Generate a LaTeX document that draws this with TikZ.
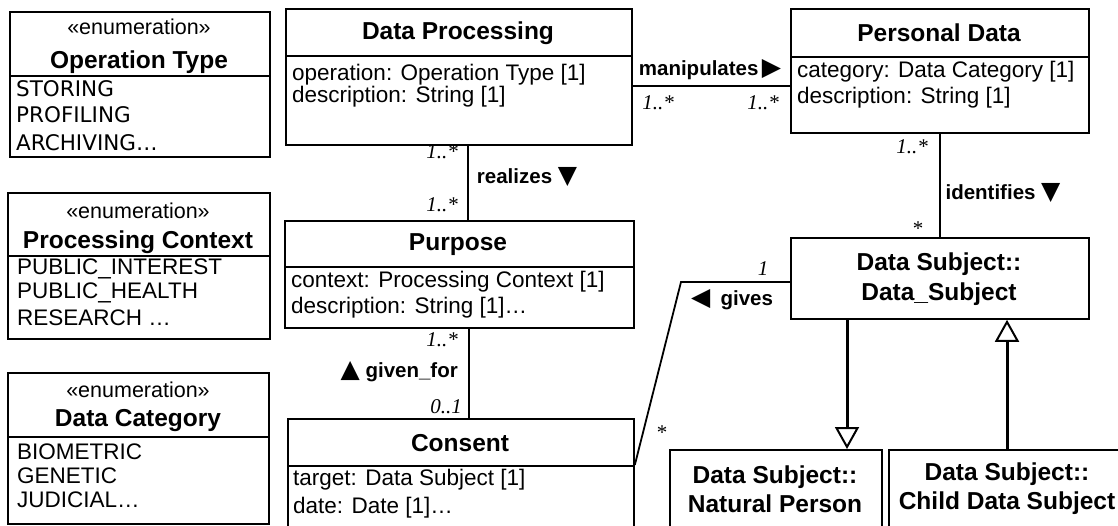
\documentclass[tikz,border=0pt]{standalone}
\usepackage{fontspec}
\setmainfont{Liberation Sans}
\newfontfamily\multfont{Liberation Serif}
\newfontfamily\symfont{DejaVu Sans}
\newfontfamily\itemfont{DejaVu Sans}
\usetikzlibrary{arrows.meta}
\newcommand{\tri}[1]{{\symfont\fontsize{25}{26}\selectfont #1}}
\begin{document}
\begin{tikzpicture}[x=1pt,y=-1pt,
 box/.style={draw, line width=1.8pt, inner sep=0, anchor=north west},
 sep/.style={line width=1.8pt},
 ttl/.style={font=\fontsize{24.5}{30}\selectfont\bfseries, inner sep=0},
 attr/.style={font=\fontsize{22.5}{26}\selectfont, inner sep=0, anchor=west},
 enumitem/.style={font=\itemfont\fontsize{21.5}{26}\selectfont, inner sep=0, anchor=west},
 enumitemb/.style={font=\fontsize{22.5}{26}\selectfont, inner sep=0, anchor=west},
 stereo/.style={font=\fontsize{21.5}{25}\selectfont, inner sep=0},
 lbl/.style={font=\fontsize{20.5}{24}\selectfont\bfseries, inner sep=0},
 mul/.style={font=\multfont\fontsize{21}{24}\selectfont\itshape, inner sep=0},
 assoc/.style={line width=1.8pt},
 gen/.style={line width=3pt, -{Triangle[open, length=22pt, width=24pt, line width=2pt]}},
]
\useasboundingbox (0,0) rectangle (1118,525);

% Operation Type
\node[box, minimum width=260pt, minimum height=145pt] (op) at (9,11) {};
\draw[sep] (op.north west) ++(0,65) -- ++(260,0);
\node[stereo] (opS) at (139,27) {«enumeration»};
\node[ttl] (opT) at (139,62) {Operation Type};
\node[enumitem] (op1) at (16,89) {STORING};
\node[enumitem] (op2) at (16,115) {PROFILING};
\node[enumitem] (op3) at (16,143) {ARCHIVING…};

% Processing Context
\node[box, minimum width=262pt, minimum height=146pt] (pc) at (7,192) {};
\draw[sep] (pc.north west) ++(0,64) -- ++(262,0);
\node[stereo] (pcS) at (138,211) {«enumeration»};
\node[ttl] (pcT) at (138,242) {Processing Context};
\node[enumitemb] (pc1) at (17,269) {PUBLIC\_INTEREST};
\node[enumitemb] (pc2) at (17,293) {PUBLIC\_HEALTH};
\node[enumitemb] (pc3) at (17,318) {RESEARCH …};

% Data Category
\node[box, minimum width=261pt, minimum height=151pt] (dc) at (7,372) {};
\draw[sep] (dc.north west) ++(0,65) -- ++(261,0);
\node[stereo] (dcS) at (138,390) {«enumeration»};
\node[ttl] (dcT) at (138,421) {Data Category};
\node[enumitemb] (dc1) at (17,452) {BIOMETRIC};
\node[enumitemb] (dc2) at (17,476) {GENETIC};
\node[enumitemb] (dc3) at (17,500) {JUDICIAL…};

% Data Processing
\node[box, minimum width=346pt, minimum height=136pt] (dp) at (285,8) {};
\draw[sep] (dp.north west) ++(0,48) -- ++(346,0);
\node[ttl] (dpT) at (458,33) {Data Processing};
\node[attr] (dp1) at (292,75) {operation: Operation Type [1]};
\node[attr] (dp2) at (292,97) {description: String [1]};

% Personal Data
\node[box, minimum width=298pt, minimum height=124pt] (pd) at (790,8) {};
\draw[sep] (pd.north west) ++(0,49) -- ++(298,0);
\node[ttl] (pdT) at (939,33) {Personal Data};
\node[attr] (pd1) at (797,72) {category: Data Category [1]};
\node[attr] (pd2) at (797,98) {description: String [1]};

% Purpose
\node[box, minimum width=349pt, minimum height=107pt] (pu) at (284,220) {};
\draw[sep] (pu.north west) ++(0,47) -- ++(349,0);
\node[ttl] (puT) at (458,245) {Purpose};
\node[attr] (pu1) at (291,282) {context: Processing Context [1]};
\node[attr] (pu2) at (291,308) {description: String [1]…};

% Consent
\node[box, minimum width=346pt, minimum height=120pt] (co) at (287,418) {};
\draw[sep] (co.north west) ++(0,48) -- ++(346,0);
\node[ttl] (coT) at (460,443) {Consent};
\node[attr] (co1) at (293,480) {target: Data Subject [1]};
\node[attr] (co2) at (293,508) {date: Date [1]…};

% Data Subject
\node[box, minimum width=298pt, minimum height=81pt] (ds) at (790,237) {};
\node[ttl, align=center] (dsT) at (939,279) {Data Subject::\\Data\_Subject};

% Natural Person
\node[box, minimum width=212pt, minimum height=90pt] (np) at (669,449) {};
\node[ttl, align=center, font=\fontsize{24.5}{29}\selectfont\bfseries] (npT) at (775,489) {Data Subject::\\Natural Person};

% Child Data Subject
\node[box, minimum width=260pt, minimum height=90pt] (cd) at (888,449) {};
\node[ttl, align=center, font=\fontsize{24.5}{29}\selectfont\bfseries] (cdT) at (1007,489) {Data Subject::\\Child Data Subject};

% manipulates
\coordinate (mY) at (0,86);
\draw[assoc] (dp.east |- mY) -- (pd.west |- mY);
\node[lbl] (mL) at (710,70) {manipulates\,\tri{▶}};
\node[mul] (m1) at (658,103) {1..*};
\node[mul] (m2) at (763,103) {1..*};

% realizes
\coordinate (rX) at (468,0);
\draw[assoc] (dp.south -| rX) -- (pu.north -| rX);
\node[lbl] (rL) at (527,177) {realizes \tri{▼}};
\node[mul, anchor=east] (r1) at (458,152) {1..*};
\node[mul, anchor=east] (r2) at (458,205) {1..*};

% identifies
\draw[assoc] (pd.south) -- (ds.north);
\node[lbl] (iL) at (1003,193) {identifies \tri{▼}};
\node[mul, anchor=east] (i1) at (928,147) {1..*};
\node[mul] (i2) at (917,229) {*};

% given_for
\coordinate (gX) at (469,0);
\draw[assoc] (pu.south -| gX) -- (co.north -| gX);
\node[mul, anchor=east] (g1) at (458,340) {1..*};
\node[lbl, anchor=east] (gL) at (458,372) {\tri{▲} given\_for};
\node[mul, anchor=east] (g2) at (462,407) {0..1};

% gives
\coordinate (gvA) at (0,282);
\coordinate (gvK) at (681,282);
\coordinate (gvB) at (0,465);
\draw[assoc] (ds.west |- gvA) -- (gvK) -- (co.east |- gvB);
\node[mul] (gv1) at (763,269) {1};
\node[lbl] (gvL) at (732,300) {\tri{◀}\enspace gives};
\node[mul] (gv2) at (661,433) {*};

% generalizations
\coordinate (nX) at (847,0);
\coordinate (cX) at (1007,0);
\draw[gen] (ds.south -| nX) -- (np.north -| nX);
\draw[gen] (cd.north -| cX) -- (ds.south -| cX);
\end{tikzpicture}
\end{document}
